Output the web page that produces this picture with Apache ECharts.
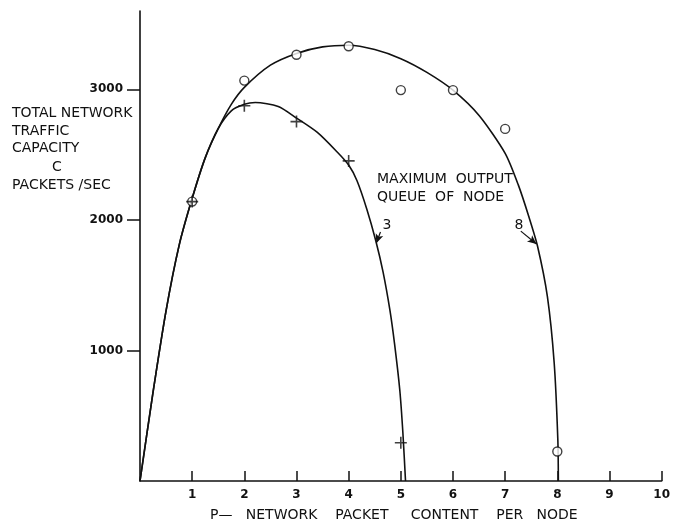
<!DOCTYPE html>
<html>
<head>
<meta charset="utf-8">
<script src="https://cdn.jsdelivr.net/npm/echarts@6/dist/echarts.min.js"></script>
<style>
  html, body { margin: 0; padding: 0; background: #fff; }
  #chart_node { width: 673px; height: 522px; }
</style>
</head>
<body>
<div id="chart_node"></div>
<script>
// smooth curves (x = packets per node, y = packets/sec)
var queue8_x = [0, 0.25, 0.5, 0.75, 1.0, 1.25, 1.5, 1.75, 2.0, 2.5, 3.0, 3.5, 4.0, 4.5, 5.0, 5.5, 6.0, 6.5, 7.0, 7.25, 7.45, 7.62, 7.81, 7.94, 8.01, 8.02];
var queue8_y = [0, 680, 1305, 1805, 2165, 2475, 2700, 2885, 3015, 3185, 3275, 3325, 3338, 3305, 3235, 3130, 2994, 2800, 2510, 2270, 2030, 1800, 1412, 904, 314, 0];

var queue3_x = [0, 0.25, 0.5, 0.75, 1.0, 1.25, 1.5, 1.75, 2.0, 2.21, 2.65, 3.0, 3.4, 3.78, 4.0, 4.16, 4.35, 4.52, 4.66, 4.79, 4.88, 4.98, 5.04, 5.09];
var queue3_y = [0, 680, 1305, 1805, 2165, 2475, 2700, 2835, 2885, 2899, 2868, 2780, 2670, 2520, 2420, 2300, 2080, 1840, 1600, 1310, 1050, 697, 366, 0];

// measured points
var circle_x = [1, 2, 3, 4, 5, 6, 7, 8];
var circle_y = [2140, 3067, 3265, 3330, 2994, 2994, 2697, 226];
var cross_x = [1, 2, 3, 4, 5];
var cross_y = [2140, 2874, 2753, 2452, 293];

var x_ticks = [1, 2, 3, 4, 5, 6, 7, 8, 9, 10];
var y_ticks = [1000, 2000, 3000];

var y_title_lines = ["TOTAL NETWORK", "TRAFFIC", "CAPACITY", "C", "PACKETS /SEC"];
var x_title = "P\u2014   NETWORK    PACKET     CONTENT    PER   NODE";
var note_lines = ["MAXIMUM  OUTPUT", "QUEUE  OF  NODE"];

var FONT = "DejaVu Sans";
var INK = "#111";

function zip(xs, ys) {
    var out = [];
    for (var i = 0; i !== xs.length; ++i) {
        out.push([xs[i], ys[i]]);
    }
    return out;
}

function plainNumber(v) {
    return String(v);
}

var chart_obj = echarts.init(document.getElementById("chart_node"), null, {renderer: "canvas"});

var graphic_items = [];
var y_title_pos = [[12, 113, "left"], [12, 131, "left"], [12, 148, "left"], [57, 167, "center"], [12, 185, "left"]];
for (var i = 0; i !== y_title_lines.length; ++i) {
    graphic_items.push({
        type: "text", x: y_title_pos[i][0], y: y_title_pos[i][1],
        style: {text: y_title_lines[i], font: "14px '" + FONT + "'", fill: INK,
                 align: y_title_pos[i][2], verticalAlign: "middle"}
    });
}
graphic_items.push({
    type: "text", x: 210, y: 515,
    style: {text: x_title, font: "14px '" + FONT + "'", fill: INK, align: "left", verticalAlign: "middle"}
});
graphic_items.push({
    type: "text", x: 377, y: 179,
    style: {text: note_lines[0], font: "14px '" + FONT + "'", fill: INK, align: "left", verticalAlign: "middle"}
});
graphic_items.push({
    type: "text", x: 377, y: 197,
    style: {text: note_lines[1], font: "14px '" + FONT + "'", fill: INK, align: "left", verticalAlign: "middle"}
});
graphic_items.push({
    type: "text", x: 387, y: 225,
    style: {text: "3", font: "14px '" + FONT + "'", fill: INK, align: "center", verticalAlign: "middle"}
});
graphic_items.push({
    type: "text", x: 519, y: 225,
    style: {text: "8", font: "14px '" + FONT + "'", fill: INK, align: "center", verticalAlign: "middle"}
});

var curve_style = {color: INK, width: 1.6};
var arrow_line = {
    silent: true,
    symbol: ["none", "arrow"],
    symbolSize: [6, 9],
    label: {show: false},
    lineStyle: {color: INK, width: 1.2, type: "solid"}
};

var option = {
    animation: false,
    backgroundColor: "#fff",
    grid: {left: 140, right: 4, top: 11, bottom: 41},
    xAxis: {
        type: "value",
        min: 0, max: 10, interval: 1,
        splitLine: {show: false},
        axisLine: {lineStyle: {color: INK, width: 1.6}},
        axisTick: {inside: true, length: 10, customValues: x_ticks, lineStyle: {color: INK, width: 1.5}},
        axisLabel: {customValues: x_ticks, margin: 8, color: INK, fontFamily: FONT, fontSize: 12,
                    fontWeight: "bold", formatter: plainNumber}
    },
    yAxis: {
        type: "value",
        min: 0, max: 3600, interval: 1000,
        splitLine: {show: false},
        axisLine: {lineStyle: {color: INK, width: 1.6}},
        axisTick: {length: 13, customValues: y_ticks, lineStyle: {color: INK, width: 1.5}},
        axisLabel: {customValues: y_ticks, margin: 17, color: INK, fontFamily: FONT, fontSize: 12,
                    fontWeight: "bold", formatter: plainNumber}
    },
    graphic: graphic_items,
    series: [
        {
            type: "line", data: zip(queue8_x, queue8_y), showSymbol: false, smooth: 0.25,
            lineStyle: curve_style, z: 2,
            markLine: echarts.util.extend({data: [[{coord: [7.30, 1914]}, {coord: [7.60, 1815]}]]}, arrow_line)
        },
        {
            type: "line", data: zip(queue3_x, queue3_y), showSymbol: false, smooth: 0.25,
            lineStyle: curve_style, z: 2,
            markLine: echarts.util.extend({data: [[{coord: [4.61, 1907]}, {coord: [4.53, 1822]}]]}, arrow_line)
        },
        {
            type: "scatter", data: zip(circle_x, circle_y), symbol: "circle", symbolSize: 9,
            itemStyle: {color: "#fff", borderColor: INK, borderWidth: 1.4}, z: 3
        },
        {
            type: "scatter", data: zip(cross_x, cross_y), symbolSize: 12,
            symbol: "path://M5.2,0H6.8V5.2H12V6.8H6.8V12H5.2V6.8H0V5.2H5.2Z",
            itemStyle: {color: INK}, z: 4
        }
    ]
};
chart_obj.setOption(option);
</script>
</body>
</html>
